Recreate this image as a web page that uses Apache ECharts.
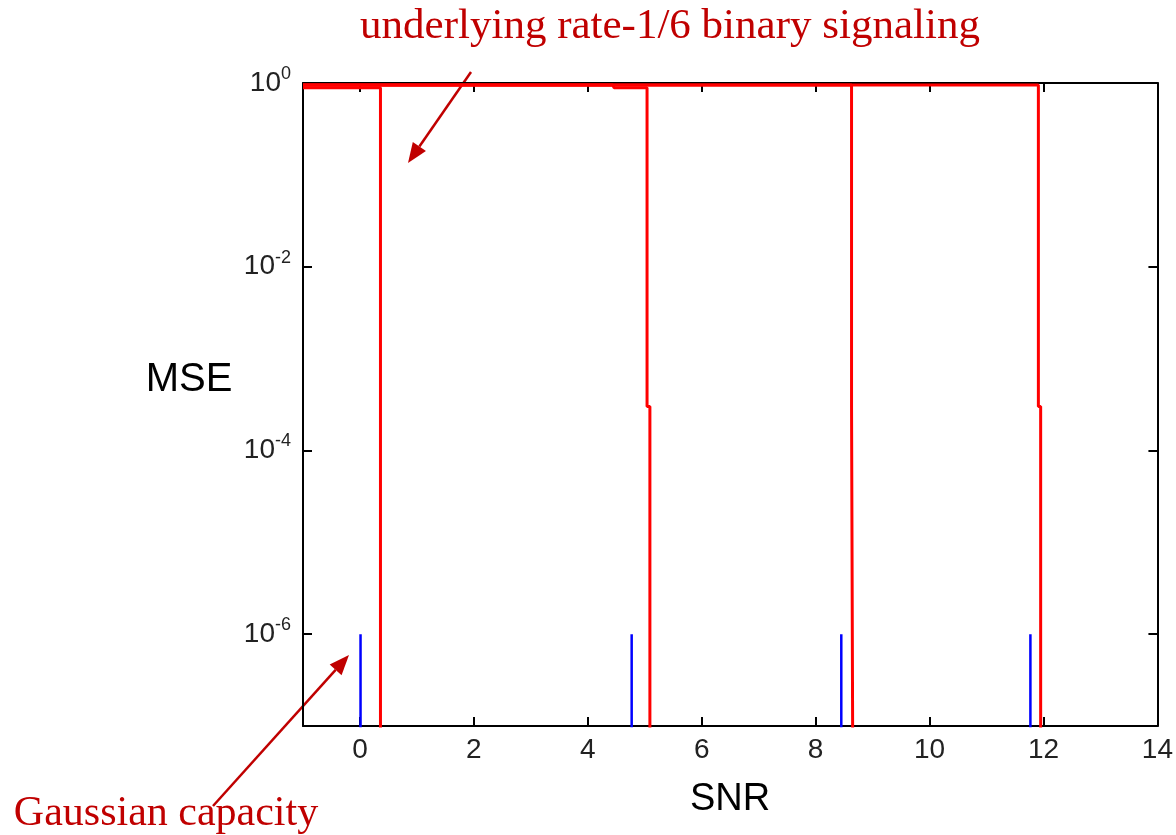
<!DOCTYPE html>
<html>
<head>
<meta charset="utf-8">
<script src="https://cdn.jsdelivr.net/npm/echarts@6/dist/echarts.min.js"></script>
<style>
html, body { margin: 0; background: #fff; }
#chart { width: 1176px; height: 835px; }
</style>
</head>
<body>
<div id="chart"></div>
<script>
// tick values
const snrTicks = [0, 2, 4, 6, 8, 10, 12, 14]
const mseTicks = [1e-6, 1e-4, 1e-2, 1]

// underlying rate-1/6 binary signaling, one staircase per layer
const snrA = [-1, 0.36, 0.36]
const mseA = [0.89, 0.89, 1e-9]
const snrB = [-1, 4.44, 4.46, 5.04, 5.04, 5.09, 5.09]
const mseB = [0.95, 0.95, 0.89, 0.89, 3e-4, 3e-4, 1e-9]
const snrC = [-1, 8.63, 8.63, 8.66, 8.66]
const mseC = [0.95, 0.95, 3e-4, 3e-4, 1e-9]
const snrD = [-1, 11.91, 11.91, 11.95, 11.95]
const mseD = [0.95, 0.95, 3e-4, 3e-4, 1e-9]

// Gaussian capacity thresholds
const gaussSnr = [0.01, 4.77, 8.45, 11.77]
const gaussMseTop = 1e-6
const gaussMseBottom = 1e-9

const chart = echarts.init(document.getElementById('chart'))

const zip = (xs, ys) => xs.map((x, i) => [x, ys[i]])

const redLine = (xs, ys) => ({
  type: 'line',
  data: zip(xs, ys),
  symbol: 'none',
  lineStyle: { color: '#ff0000', width: 3 },
  z: 3
})

const blueLines = gaussSnr.map(s => ({
  type: 'line',
  data: [[s, gaussMseTop], [s, gaussMseBottom]],
  symbol: 'none',
  lineStyle: { color: '#0000ff', width: 2.5 },
  z: 2
}))

// arrow: shaft + filled head, pointing at (x2, y2)
const arrow = (x1, y1, x2, y2) => {
  const dx = x2 - x1, dy = y2 - y1
  const len = Math.sqrt(dx * dx + dy * dy)
  const ux = dx / len, uy = dy / len
  const hl = 20, hw = 8
  const bx = x2 - ux * hl, by = y2 - uy * hl
  return [
    {
      type: 'line',
      shape: { x1: x1, y1: y1, x2: bx, y2: by },
      style: { stroke: '#c00000', lineWidth: 2.5 }
    },
    {
      type: 'polygon',
      shape: { points: [[x2, y2], [bx - uy * hw, by + ux * hw], [bx + uy * hw, by - ux * hw]] },
      style: { fill: '#c00000' }
    }
  ]
}

const labelFont = 'Liberation Sans'
const expLabel = v => {
  const e = Math.round(Math.log10(v))
  return '{b|10}{s|' + e + '}'
}

const frame = { show: true, onZero: false, lineStyle: { color: '#000', width: 2 } }
const tickStyle = { color: '#000', width: 2 }

const option = {
  animation: false,
  backgroundColor: '#fff',
  grid: { left: 303, top: 83, width: 856, height: 643, containLabel: false },
  xAxis: [
    {
      type: 'value', min: -1, max: 14,
      axisLine: frame,
      axisTick: { show: true, inside: true, length: 9, customValues: snrTicks, lineStyle: tickStyle },
      axisLabel: { customValues: snrTicks, color: '#222', fontSize: 28, fontFamily: labelFont, margin: 10 },
      splitLine: { show: false }
    },
    {
      type: 'value', min: -1, max: 14, position: 'top',
      axisLine: frame,
      axisTick: { show: true, inside: true, length: 9, customValues: snrTicks.slice(0, -1), lineStyle: tickStyle },
      axisLabel: { show: false },
      splitLine: { show: false }
    }
  ],
  yAxis: [
    {
      type: 'log', logBase: 10, min: 1e-7, max: 1,
      axisLine: frame,
      axisTick: { show: true, inside: true, length: 9, customValues: mseTicks, lineStyle: tickStyle },
      axisLabel: {
        customValues: mseTicks,
        formatter: expLabel,
        margin: 12,
        rich: {
          b: { fontSize: 28, fontFamily: labelFont, color: '#222', lineHeight: 32 },
          s: { fontSize: 18, fontFamily: labelFont, color: '#222', verticalAlign: 'top', padding: [0, 0, 18, 0] }
        }
      },
      splitLine: { show: false }
    },
    {
      type: 'log', logBase: 10, min: 1e-7, max: 1, position: 'right',
      axisLine: frame,
      axisTick: { show: true, inside: true, length: 9, customValues: mseTicks.slice(0, -1), lineStyle: tickStyle },
      axisLabel: { show: false },
      splitLine: { show: false }
    }
  ],
  series: [
    redLine(snrA, mseA),
    redLine(snrB, mseB),
    redLine(snrC, mseC),
    redLine(snrD, mseD),
    ...blueLines
  ],
  graphic: [
    {
      type: 'text', x: 670, y: 27,
      style: { text: 'underlying rate-1/6 binary signaling', font: '43px "Liberation Serif"', fill: '#c00000', align: 'center', verticalAlign: 'middle' }
    },
    {
      type: 'text', x: 166, y: 814,
      style: { text: 'Gaussian capacity', font: '42px "Liberation Serif"', fill: '#c00000', align: 'center', verticalAlign: 'middle' }
    },
    {
      type: 'text', x: 189, y: 380,
      style: { text: 'MSE', font: '40px "Liberation Sans"', fill: '#000', align: 'center', verticalAlign: 'middle' }
    },
    {
      type: 'text', x: 730, y: 800,
      style: { text: 'SNR', font: '38px "Liberation Sans"', fill: '#000', align: 'center', verticalAlign: 'middle' }
    },
    ...arrow(471, 72, 408, 163),
    ...arrow(213, 806, 349, 655)
  ]
}

chart.setOption(option)
</script>
</body>
</html>
